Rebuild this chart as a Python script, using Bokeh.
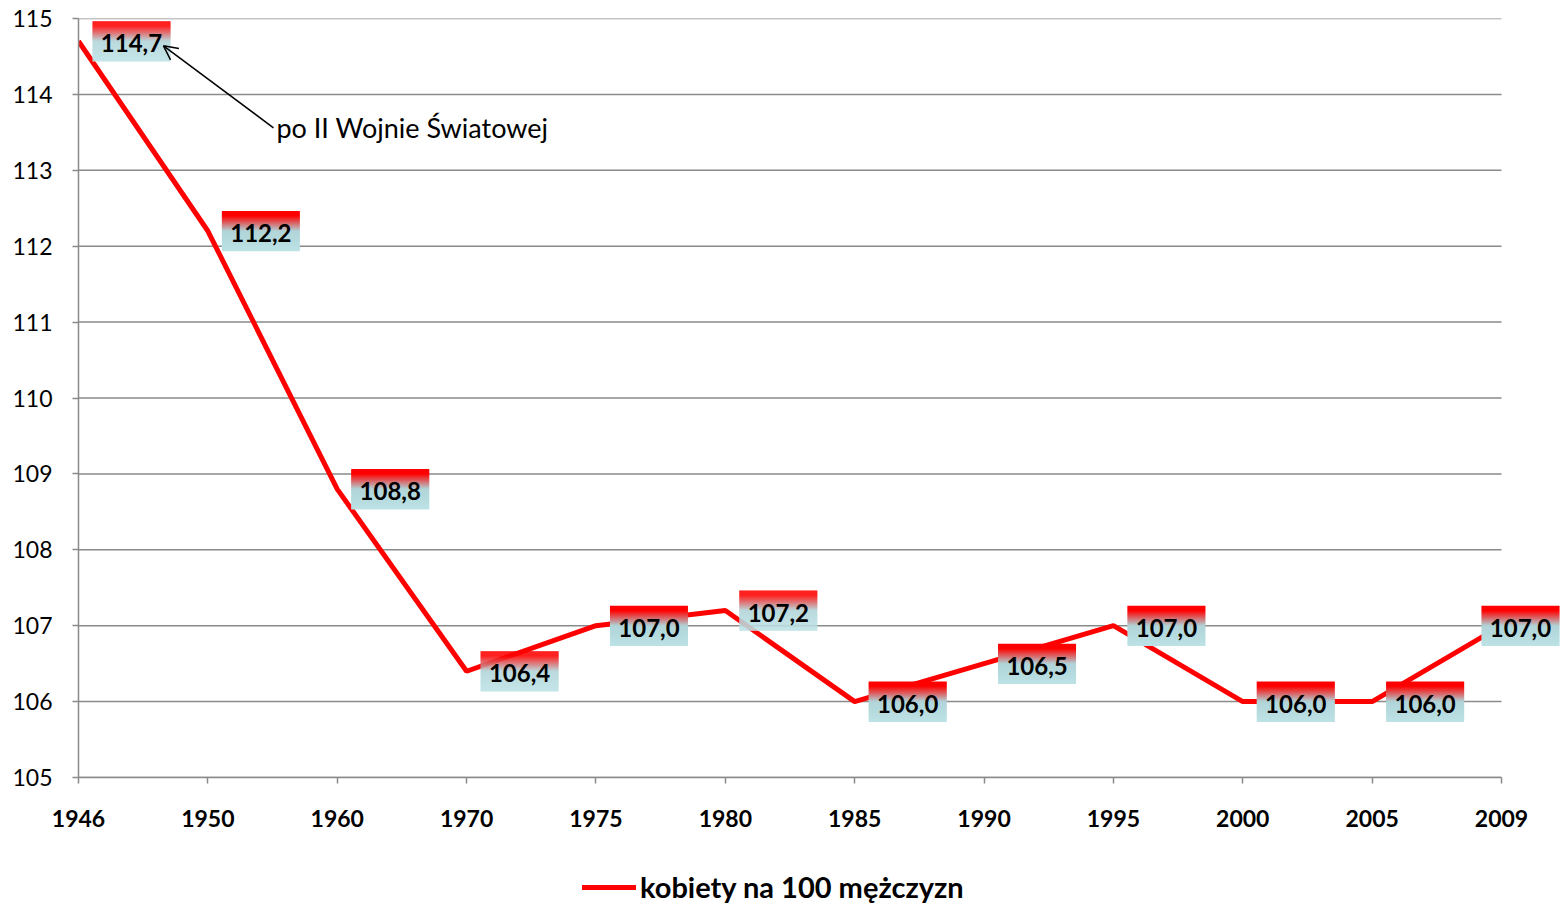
from bokeh.plotting import figure
from bokeh.layouts import column
from bokeh.models import (FixedTicker, Legend, LegendItem, Arrow, OpenHead,
                          Label)
from bokeh.core.properties import value
from bokeh.embed import file_html
from bokeh.resources import INLINE

# ---- data ----
years = ["1946", "1950", "1960", "1970", "1975", "1980", "1985", "1990",
         "1995", "2000", "2005", "2009"]
ratio = [114.7, 112.2, 108.8, 106.4, 107.0, 107.2, 106.0, 106.5, 107.0,
         106.0, 106.0, 107.0]
series_name = "kobiety na 100 mężczyzn"
note_text = "po II Wojnie Światowej"
y_ticks = list(range(105, 116))

# ---- layout ----
W, H = 1562, 845
H2 = 907 - H
BL, BR, BT, BB = 78, 0, 18, 68
AXIS_W = 1423               # width of the drawn axis (first..last category)
FH = H - BT - BB
n = len(years)
xs = list(range(n))
PX = AXIS_W / (n - 1)       # pixels per category step
PY = FH / 10.0              # pixels per y unit
x_end = (W - BL - BR) / PX  # frame extends beyond last category for the label
FONT = "Lato"
RED = "#ff0000"

p = figure(width=W, height=H, output_backend="svg", toolbar_location=None,
           x_range=(0, x_end), y_range=(105, 115),
           min_border_left=BL, min_border_right=BR, min_border_top=BT,
           min_border_bottom=BB)
p.outline_line_color = None
p.background_fill_color = "white"
p.border_fill_color = "white"

grid_col = "#8a8a8a"
p.xgrid.grid_line_color = None
p.ygrid.grid_line_color = None
p.segment(x0=[0] * len(y_ticks), x1=[n - 1] * len(y_ticks),
          y0=y_ticks, y1=y_ticks, line_color=grid_col, line_width=1.5)

p.yaxis.ticker = FixedTicker(ticks=y_ticks)
p.xaxis.ticker = FixedTicker(ticks=xs)
p.xaxis.bounds = (0, n - 1)
p.xaxis.major_label_overrides = {i: y for i, y in enumerate(years)}
for ax in (p.xaxis, p.yaxis):
    ax.axis_line_color = grid_col
    ax.axis_line_width = 1.5
    ax.major_tick_line_color = grid_col
    ax.major_tick_line_width = 1.5
    ax.major_tick_in = 0
    ax.major_tick_out = 6
    ax.minor_tick_line_color = None
    ax.major_label_text_font = FONT
    ax.major_label_text_color = "black"
p.xaxis.major_label_text_font_size = "23px"
p.xaxis.major_label_text_font_style = "bold"
p.xaxis.major_label_standoff = 26
p.yaxis.major_label_text_font_size = "23px"
p.yaxis.major_label_standoff = 20

p.line(xs, ratio, line_color=RED, line_width=5)

# ---- gradient label boxes ----
BOX_W, BOX_H, OFF, OFF_LAST = 78, 40, 14, -20
NB = 40
top_c = (255, 0, 0)
mid_c = (176, 212, 216)
bot_c = (188, 226, 230)


def band_color(t):
    if t < 0.12:
        c = top_c
    elif t < 0.5:
        u = (t - 0.12) / 0.38
        c = tuple(top_c[k] + (mid_c[k] - top_c[k]) * u for k in range(3))
    else:
        u = (t - 0.5) / 0.5
        c = tuple(mid_c[k] + (bot_c[k] - mid_c[k]) * u for k in range(3))
    return "#%02x%02x%02x" % tuple(int(round(v)) for v in c)


L, R, T, B, C = [], [], [], [], []
tx, ty, tt = [], [], []
for i, v in enumerate(ratio):
    off = OFF if i < n - 1 else OFF_LAST
    left = i + off / PX
    right = left + BOX_W / PX
    top = v + (BOX_H / 2) / PY
    for k in range(NB):
        L.append(left)
        R.append(right)
        T.append(top - k * (BOX_H / NB) / PY)
        B.append(top - (k + 1) * (BOX_H / NB) / PY - 0.3 / PY)
        C.append(band_color((k + 0.5) / NB))
    tx.append((left + right) / 2)
    ty.append(v)
    tt.append(("%.1f" % v).replace(".", ","))

p.quad(left=L, right=R, top=T, bottom=B, fill_color=C, line_color=None)
p.text(x=tx, y=ty, text=tt, text_align="center", text_baseline="middle",
       text_font=value(FONT), text_font_size="24px", text_font_style="bold",
       text_color="black", y_offset=2)

# ---- annotation ----
note_x, note_y = 1.507, 113.56
tip_x, tip_y = 0.657, 114.64
p.add_layout(Arrow(x_start=note_x, y_start=note_y, x_end=tip_x, y_end=tip_y,
                   line_color="black", line_width=1.5,
                   end=OpenHead(size=14, line_color="black", line_width=1.5)))
p.add_layout(Label(x=note_x, y=note_y, x_offset=3, text=note_text,
                   text_font=FONT, text_font_size="27px",
                   text_baseline="middle", text_color="black"))

# ---- legend (own strip below the chart) ----
p2 = figure(width=W, height=H2, output_backend="svg", toolbar_location=None,
            x_axis_location=None, y_axis_location=None,
            x_range=(0, 1), y_range=(0, 1),
            min_border_left=BL, min_border_right=BR, min_border_top=0,
            min_border_bottom=0)
p2.outline_line_color = None
p2.xgrid.grid_line_color = None
p2.ygrid.grid_line_color = None
# same series, outside this strip's visible range: only its legend key shows
key = p2.line(xs, ratio, line_color=RED, line_width=5, line_cap="round")
legend = Legend(items=[LegendItem(label=series_name, renderers=[key])],
                location=(504, 3), orientation="horizontal",
                glyph_width=54, glyph_height=22, label_standoff=4,
                label_text_font=FONT, label_text_font_size="29px",
                label_text_font_style="bold", label_text_color="black",
                padding=0, margin=0,
                border_line_color=None, background_fill_alpha=0)
p2.add_layout(legend, "center")

open("out.html", "w").write(file_html(column(p, p2, spacing=0), INLINE))
